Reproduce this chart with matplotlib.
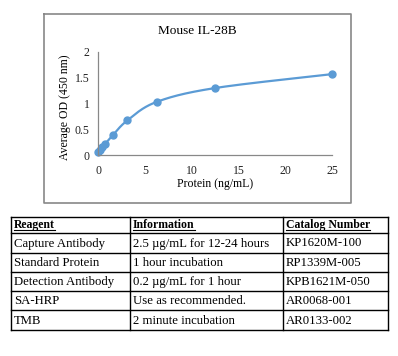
import matplotlib
matplotlib.use("Agg")
import matplotlib.pyplot as plt
import numpy as np

# ---- data ----
conc = [0, 0.195, 0.39, 0.78, 1.56, 3.125, 6.25, 12.5, 25]
od = [0.06, 0.10, 0.15, 0.22, 0.38, 0.67, 1.03, 1.30, 1.57]
xticks = [0, 5, 10, 15, 20, 25]
yticks = [0, 0.5, 1, 1.5, 2]
ytick_labels = ["0", "0.5", "1", "1.5", "2"]
title = "Mouse IL-28B"
xlabel = "Protein (ng/mL)"
ylabel = "Average OD (450 nm)"
headers = ["Reagent", "Information", "Catalog Number"]
rows = [
    ["Capture Antibody", "2.5 \u00b5g/mL for 12-24 hours", "KP1620M-100"],
    ["Standard Protein", "1 hour incubation", "RP1339M-005"],
    ["Detection Antibody", "0.2 \u00b5g/mL for 1 hour", "KPB1621M-050"],
    ["SA-HRP", "Use as recommended.", "AR0068-001"],
    ["TMB", "2 minute incubation", "AR0133-002"],
]

plt.rcParams['font.family'] = ['Liberation Serif', 'DejaVu Serif']
W, H = 398, 356
fig = plt.figure(figsize=(W / 100, H / 100), dpi=100)

# overlay axes in pixel coordinates
ov = fig.add_axes([0, 0, 1, 1])
ov.set_xlim(0, W)
ov.set_ylim(H, 0)
ov.axis('off')

# chart border
ov.plot([44, 351, 351, 44, 44], [14, 14, 203, 203, 14], color='#888888', lw=1.2)
ov.text(197.5, 31, title, fontsize=9.5, ha='center', va='center')

# chart axes
def px(x0, y0, x1, y1):
    return [x0 / W, 1 - y1 / H, (x1 - x0) / W, (y1 - y0) / H]

ax = fig.add_axes(px(98, 52, 332, 155))
ax.set_zorder(2)
ax.patch.set_alpha(0)

def catmull(xs, ys, n=30):
    xs = np.asarray(xs, float); ys = np.asarray(ys, float)
    P = np.column_stack([xs, ys])
    P = np.vstack([P[0], P, P[-1]])
    out = []
    for i in range(1, len(P) - 2):
        p0, p1, p2, p3 = P[i - 1], P[i], P[i + 1], P[i + 2]
        t = np.linspace(0, 1, n)[:, None]
        seg = 0.5 * ((2 * p1) + (-p0 + p2) * t + (2 * p0 - 5 * p1 + 4 * p2 - p3) * t ** 2
                     + (-p0 + 3 * p1 - 3 * p2 + p3) * t ** 3)
        out.append(seg)
    out = np.vstack(out)
    return out[:, 0], out[:, 1]

sx, sy = catmull(conc, od)
color = '#5B9BD5'
ax.plot(sx, sy, color=color, lw=1.6, clip_on=False)
ax.plot(conc, od, 'o', color=color, ms=5, clip_on=False)
ax.set_xlim(0, 25)
ax.set_ylim(0, 2)
ax.set_xticks(xticks)
ax.set_yticks(yticks)
ax.set_yticklabels(ytick_labels)
for s in ['top', 'right']:
    ax.spines[s].set_visible(False)
for s in ['left', 'bottom']:
    ax.spines[s].set_color('#888888')
    ax.spines[s].set_linewidth(0.9)
ax.tick_params(length=0, labelsize=8.5, colors='#222222')
ax.tick_params(axis='x', pad=7)
ax.tick_params(axis='y', pad=6)
ax.set_xlabel(xlabel, fontsize=8.5)
ax.set_ylabel(ylabel, fontsize=8.5)
ax.xaxis.set_label_coords((215 - 98) / (332 - 98), -(184 - 155) / (155 - 52))
ax.yaxis.set_label_coords(-(98 - 65) / (332 - 98), (155 - 107) / (155 - 52))
ax.xaxis.label.set_va('center')
ax.yaxis.label.set_va('center')

# table
tl, tr = 11, 388
cols = [11, 130, 283, 388]
hlines = [217, 233, 253, 272, 291, 310, 330]
for y in hlines:
    ov.plot([tl, tr], [y, y], color='black', lw=1.0)
for x in cols:
    ov.plot([x, x], [hlines[0], hlines[-1]], color='black', lw=1.0)

fig.canvas.draw()
renderer = fig.canvas.get_renderer()
inv = ov.transData.inverted()
for j, h in enumerate(headers):
    yc = (hlines[0] + hlines[1]) / 2
    t = ov.text(cols[j] + 3, yc, h, fontsize=8.5, fontweight='bold', va='center', ha='left')
    bb = t.get_window_extent(renderer)
    (x0, _), (x1, _) = inv.transform([[bb.x0, bb.y0], [bb.x1, bb.y0]])
    ov.plot([x0, x1], [yc + 5, yc + 5], color='black', lw=0.8)
for i, r in enumerate(rows):
    yc = (hlines[i + 1] + hlines[i + 2]) / 2 + 0.5
    for j, c in enumerate(r):
        ov.text(cols[j] + 3, yc, c, fontsize=9.2, va='center', ha='left')

fig.savefig('out.png', dpi=100)
